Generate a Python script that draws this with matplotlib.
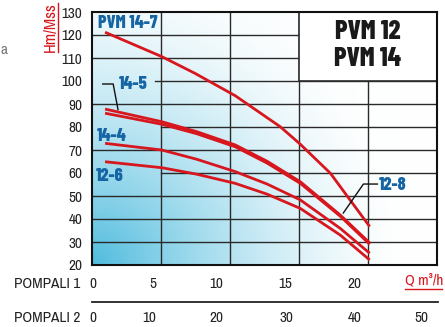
import numpy as np
import matplotlib
matplotlib.use("Agg")
import matplotlib.pyplot as plt
from matplotlib import transforms

# ---------------- data ----------------
q_147 = [1.0, 5.34, 7.89, 10.96, 14.41, 15.94, 18.24, 21.25]
h_147 = [121.2, 110.6, 103.3, 93.6, 80.1, 72.5, 59.9, 36.7]

q_common = [1.0, 5.34, 8.0, 10.96, 13.4, 15.94, 19.0, 21.25]
h_145 = [87.8, 82.3, 78.0, 72.2, 65.1, 56.2, 41.7, 29.6]
h_128 = [86.0, 81.2, 77.1, 71.4, 64.3, 55.5, 41.2, 29.0]
h_144 = [72.9, 70.0, 66.0, 60.6, 55.2, 48.3, 35.9, 25.1]
h_126 = [64.9, 62.3, 59.5, 55.5, 50.8, 44.6, 33.0, 22.2]

series = [
    (q_147, h_147),
    (q_common, h_145),
    (q_common, h_128),
    (q_common, h_144),
    (q_common, h_126),
]

y_ticks = [20, 30, 40, 50, 60, 70, 80, 90, 100, 110, 120, 130]
pompali1_labels = ["0", "5", "10", "15", "20"]
pompali1_pos = [0.08, 4.67, 9.5, 14.8, 20.1]
pompali2_labels = ["0", "10", "20", "30", "40", "50"]
pompali2_pos = [0.08, 4.4, 9.5, 14.87, 20.1, 25.2]

X_MAX = 26.4
grid_x = [5.28, 10.56, 15.84, 21.12]
full_h = [30, 40, 50, 70, 90, 110, 120]
partial_h = [60, 80]

# ---------------- style ----------------
REG = ["Archivo Narrow", "Barlow Condensed", "DejaVu Sans"]
BOLD = ["Barlow Condensed", "Asap Condensed", "DejaVu Sans"]
RED = "#d7161e"
BLUE = "#1565a5"
TXT = "#222222"
FS = 11
plt.rcParams["font.family"] = REG

fig = plt.figure(figsize=(4.45, 3.27), dpi=100)
ax = fig.add_axes([92 / 445, 1 - 265 / 327, 345 / 445, 253 / 327])
ax.set_xlim(0, X_MAX)
ax.set_ylim(20, 130)

# background gradient
nx, ny = 200, 150
u = np.linspace(0, 1, nx)[None, :]
v = np.linspace(0, 1, ny)[:, None]
s = np.sqrt((u / 0.9) ** 2 + (v / 1.15) ** 2)
t = np.clip(1 - s, 0, 1) ** 1.5 * 0.95 + 0.05 * (1 - u)
cyan = np.array([80, 188, 222]) / 255.0
white = np.array([1.0, 1.0, 1.0])
img = white[None, None, :] * (1 - t[..., None]) + cyan[None, None, :] * t[..., None]
ax.imshow(img, origin="lower", extent=[0, X_MAX, 20, 130], aspect="auto", zorder=0)

# grid
for gx in grid_x:
    ax.plot([gx, gx], [20, 130], color="#2a2a2a", lw=1.0, zorder=1)
for gy in full_h:
    ax.plot([0, X_MAX], [gy, gy], color="#2a2a2a", lw=1.0, zorder=1)
for gy in partial_h:
    ax.plot([grid_x[0], X_MAX], [gy, gy], color="#2a2a2a", lw=1.0, zorder=1)
ax.plot([4.8, X_MAX], [100, 100], color="#2a2a2a", lw=1.0, zorder=1)

# title box
ax.add_patch(plt.Rectangle((grid_x[2], 100), X_MAX - grid_x[2], 30,
                           facecolor="white", edgecolor="#2a2a2a", lw=1.2, zorder=2))
cx = (grid_x[2] + X_MAX) / 2
ax.text(cx, 121.2, "PVM 12", ha="center", va="center", fontsize=19, family=BOLD,
        fontweight=800, color="#1a1a1a", zorder=3)
ax.text(cx, 109.4, "PVM 14", ha="center", va="center", fontsize=19, family=BOLD,
        fontweight=800, color="#1a1a1a", zorder=3)

# curves
for qx, hy in series:
    ax.plot(qx, hy, color=RED, lw=2.0, solid_capstyle="butt",
            solid_joinstyle="round", zorder=4)

# labels
lab_kw = dict(color=BLUE, fontweight=800, family=BOLD, va="center", zorder=5)
ax.text(0.45, 125.0, "PVM 14-7", ha="left", fontsize=13, **lab_kw)
ax.text(2.05, 98.5, "14-5", ha="left", fontsize=13, **lab_kw)
ax.text(0.4, 76.3, "14-4", ha="left", fontsize=13, **lab_kw)
ax.text(0.3, 58.5, "12-6", ha="left", fontsize=13, **lab_kw)
ax.text(21.95, 54.6, "12-8", ha="left", fontsize=13, **lab_kw)

# leader lines
ax.plot([0.82, 1.62, 1.99], [98.7, 98.7, 87.6], color="#111111", lw=1.0, zorder=5)
ax.plot([21.84, 20.77, 19.23], [55.2, 55.2, 42.6], color="#111111", lw=1.0, zorder=5)

# axes frame
for sp in ax.spines.values():
    sp.set_linewidth(1.5)
    sp.set_color("#111111")
    sp.set_zorder(6)

ax.set_yticks(y_ticks)
ax.set_yticklabels([str(v) for v in y_ticks], fontsize=FS, color=TXT)
ax.tick_params(axis="y", length=0, pad=7)
ax.set_xticks([])

# x rows
bt = transforms.blended_transform_factory(ax.transData, fig.transFigure)
row1_y = 1 - 284 / 327
row2_y = 1 - 318 / 327
for p, l in zip(pompali1_pos, pompali1_labels):
    ax.text(p, row1_y, l, transform=bt, ha="center", va="center", fontsize=FS,
            color=TXT, clip_on=False)
for p, l in zip(pompali2_pos, pompali2_labels):
    ax.text(p, row2_y, l, transform=bt, ha="center", va="center", fontsize=FS,
            color=TXT, clip_on=False)
fig.text(14 / 445, row1_y, "POMPALI 1", ha="left", va="center", fontsize=FS, color=TXT)
fig.text(14 / 445, row2_y, "POMPALI 2", ha="left", va="center", fontsize=FS, color=TXT)
fig.add_artist(plt.Line2D([92 / 445, 438 / 445], [1 - 302 / 327] * 2,
                          color=TXT, lw=1.3))

# Q unit
fig.text(405 / 445, 1 - 281 / 327, "Q m³/h", ha="left", va="center", fontsize=FS, color=RED)
fig.add_artist(plt.Line2D([405 / 445, 442 / 445], [1 - 289 / 327] * 2, color=RED, lw=1.0))

# y unit
fig.text(50 / 445, 1 - 27 / 327, "Hm/Mss", ha="center", va="center", rotation=90,
         fontsize=12, color=RED)
fig.add_artist(plt.Line2D([58 / 445] * 2, [1 - 3 / 327, 1 - 52 / 327], color=RED, lw=1.0))

# stray text at left edge
fig.text(0.5 / 445, 1 - 50 / 327, "a", ha="left", va="center", fontsize=11, color="#777777")

fig.savefig("out.png", dpi=100, facecolor="white")
